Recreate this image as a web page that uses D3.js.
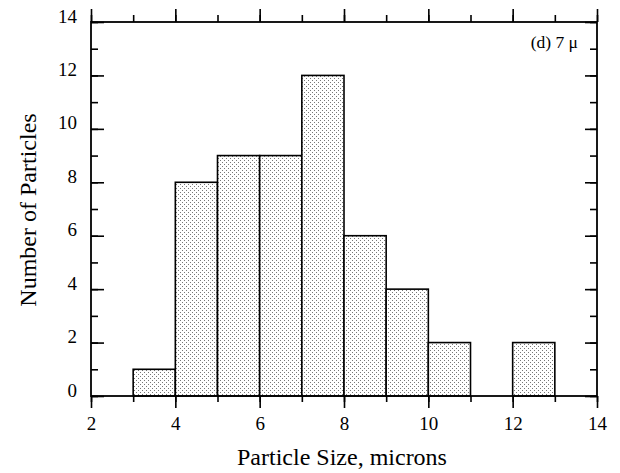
<!DOCTYPE html>
<html><head><meta charset="utf-8">
<script src="https://cdn.jsdelivr.net/npm/d3@7"></script>
<style>body{margin:0;background:#fff}svg{display:block}</style>
</head><body>
<script>
const binStarts = [3,4,5,6,7,8,9,10,11,12];
const counts    = [1,8,9,9,12,6,4,2,0,2];
const binWidth  = 1;
const xMajorTicks = [2,4,6,8,10,12,14];
const yMajorTicks = [0,2,4,6,8,10,12,14];
const xLabel = "Particle Size, microns";
const yLabel = "Number of Particles";
const note = "(d) 7 μ";

const W=620,H=473;
const m={l:91,r:23,t:22,b:77};
const svg=d3.select("body").append("svg").attr("width",W).attr("height",H);
const defs=svg.append("defs");
const pat=defs.append("pattern").attr("id","dots").attr("patternUnits","userSpaceOnUse").attr("width",4).attr("height",4);
pat.append("rect").attr("width",4).attr("height",4).attr("fill","#fff");
pat.append("rect").attr("x",0).attr("y",0).attr("width",1).attr("height",1).attr("fill","#777");
pat.append("rect").attr("x",2).attr("y",2).attr("width",1).attr("height",1).attr("fill","#777");

const x=d3.scaleLinear().domain([2,14]).range([m.l,W-m.r]);
const y=d3.scaleLinear().domain([0,14]).range([H-m.b,m.t]);
const font="'Liberation Serif','Times New Roman',serif";

const data=binStarts.map((s,i)=>({s,c:counts[i]})).filter(d=>d.c>0);
svg.selectAll("rect.bar").data(data).join("rect").attr("class","bar")
 .attr("x",d=>x(d.s)).attr("y",d=>y(d.c)).attr("width",d=>x(d.s+binWidth)-x(d.s)).attr("height",d=>y(0)-y(d.c))
 .attr("fill","url(#dots)").attr("stroke","#000").attr("stroke-width",1.6);

const minorX=d3.range(2,14.01,1), minorY=d3.range(0,14.01,1);
function styleAxis(g){g.select(".domain").remove();g.selectAll("line").attr("stroke","#000").attr("stroke-width",1.6);}
// bottom (outward)
svg.append("g").attr("transform",`translate(0,${y(0)})`).call(d3.axisBottom(x).tickValues(minorX).tickSize(6).tickFormat(""))
 .call(styleAxis);
svg.append("g").attr("transform",`translate(0,${y(0)})`).call(d3.axisBottom(x).tickValues(xMajorTicks).tickSize(12).tickPadding(9).tickFormat(d3.format("d")))
 .call(styleAxis).selectAll("text").attr("font-family",font).attr("font-size",19).attr("fill","#000");
// top (outward)
svg.append("g").attr("transform",`translate(0,${y(14)})`).call(d3.axisTop(x).tickValues(minorX).tickSize(7).tickFormat("")).call(styleAxis);
svg.append("g").attr("transform",`translate(0,${y(14)})`).call(d3.axisTop(x).tickValues(xMajorTicks).tickSize(13).tickFormat("")).call(styleAxis);
// left (inward)
svg.append("g").attr("transform",`translate(${x(2)},0)`).call(d3.axisRight(y).tickValues(minorY).tickSize(7).tickFormat("")).call(styleAxis);
svg.append("g").attr("transform",`translate(${x(2)},0)`).call(d3.axisRight(y).tickValues(yMajorTicks).tickSize(13).tickFormat("")).call(styleAxis);
svg.append("g").attr("transform",`translate(${x(2)},-6)`).call(d3.axisLeft(y).tickValues(yMajorTicks).tickSize(0).tickPadding(14).tickFormat(d3.format("d")))
 .call(g=>g.select(".domain").remove()).selectAll("text").attr("font-family",font).attr("font-size",19).attr("fill","#000");
// right (inward)
svg.append("g").attr("transform",`translate(${x(14)},0)`).call(d3.axisLeft(y).tickValues(minorY).tickSize(7).tickFormat("")).call(styleAxis);
svg.append("g").attr("transform",`translate(${x(14)},0)`).call(d3.axisLeft(y).tickValues(yMajorTicks).tickSize(12).tickFormat("")).call(styleAxis);
// frame
svg.append("rect").attr("x",x(2)).attr("y",y(14)).attr("width",x(14)-x(2)).attr("height",y(0)-y(14))
 .attr("fill","none").attr("stroke","#000").attr("stroke-width",1.8);

svg.append("text").attr("x",(x(2)+x(14))/2 - 2).attr("y",465).attr("text-anchor","middle")
 .attr("font-family",font).attr("font-size",24).text(xLabel);
svg.append("text").attr("transform",`translate(36,${(y(0)+y(14))/2 + 1}) rotate(-90)`).attr("text-anchor","middle")
 .attr("font-family",font).attr("font-size",24).text(yLabel);
svg.append("text").attr("x",578).attr("y",48).attr("text-anchor","end")
 .attr("font-family",font).attr("font-size",17.5).text(note);
</script>
</body></html>
